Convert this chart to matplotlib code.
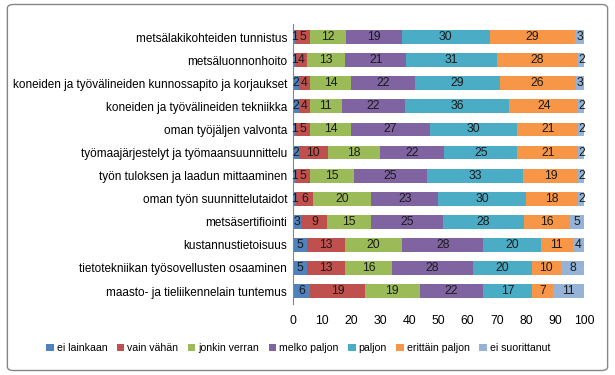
import numpy as np
import matplotlib.pyplot as plt
from matplotlib.patches import FancyBboxPatch

plt.rcParams['font.family'] = ['Liberation Sans', 'DejaVu Sans']

# Kategoriat ylhäältä alas
kategoriat = [
    'metsälakikohteiden tunnistus',
    'metsäluonnonhoito',
    'koneiden ja työvälineiden kunnossapito ja korjaukset',
    'koneiden ja työvälineiden tekniikka',
    'oman työjäljen valvonta',
    'työmaajärjestelyt ja työmaansuunnittelu',
    'työn tuloksen ja laadun mittaaminen',
    'oman työn suunnittelutaidot',
    'metsäsertifiointi',
    'kustannustietoisuus',
    'tietotekniikan työsovellusten osaaminen',
    'maasto- ja tieliikennelain tuntemus',
]

sarjat = ['ei lainkaan', 'vain vähän', 'jonkin verran', 'melko paljon',
          'paljon', 'erittäin paljon', 'ei suorittanut']

ei_lainkaan = [1, 1, 2, 2, 1, 2, 1, 1, 3, 5, 5, 6]
vain_vahan = [5, 4, 4, 4, 5, 10, 5, 6, 9, 13, 13, 19]
jonkin_verran = [12, 13, 14, 11, 14, 18, 15, 20, 15, 20, 16, 19]
melko_paljon = [19, 21, 22, 22, 27, 22, 25, 23, 25, 28, 28, 22]
paljon = [30, 31, 29, 36, 30, 25, 33, 30, 28, 20, 20, 17]
erittain_paljon = [29, 28, 26, 24, 21, 21, 19, 18, 16, 11, 10, 7]
ei_suorittanut = [3, 2, 3, 2, 2, 2, 2, 2, 5, 4, 8, 11]

arvot = [ei_lainkaan, vain_vahan, jonkin_verran, melko_paljon,
         paljon, erittain_paljon, ei_suorittanut]
varit = ['#4F81BD', '#C0504D', '#9BBB59', '#8064A2',
         '#4BACC6', '#F79646', '#95B3D7']

# 100 % pinottu: rivit skaalataan summaan 100 (pyöristetyt arvot eivät aina summaudu tasan)
taulu = np.array(arvot, dtype=float)
osuudet = taulu / taulu.sum(axis=0) * 100

fig = plt.figure(figsize=(6.15, 3.75), dpi=100)
ax = fig.add_axes([0.476, 0.19, 0.474, 0.745])

y = np.arange(len(kategoriat))
vasen = np.zeros(len(kategoriat))
for nimi, data, osuus, vari in zip(sarjat, taulu, osuudet, varit):
    ax.barh(y, osuus, left=vasen, height=0.6, color=vari, label=nimi)
    for yi, (l, d, a) in enumerate(zip(vasen, osuus, data)):
        ax.text(l + d / 2, yi, f'{int(a)}', ha='center', va='center',
                fontsize=8.8, color='#1a1a1a')
    vasen += osuus

ax.set_xlim(0, 100)
ax.set_ylim(len(kategoriat) - 0.45, -0.55)
ax.set_yticks(y)
ax.set_yticklabels(kategoriat, fontsize=8.5)
ax.set_xticks(range(0, 101, 10))
ax.tick_params(axis='x', length=0, labelsize=8.8, pad=8)
ax.tick_params(axis='y', length=0, pad=4)
for s in ['top', 'right', 'bottom']:
    ax.spines[s].set_visible(False)
ax.spines['left'].set_color('#868686')

fig.legend(loc='center', bbox_to_anchor=(0.485, 0.072), ncol=7, frameon=False,
           fontsize=7.6, handlelength=0.7, handleheight=0.7, handletextpad=0.3,
           columnspacing=0.9)

reuna = FancyBboxPatch((0.012, 0.012), 0.976, 0.976, boxstyle='round,pad=0,rounding_size=0.01',
                       transform=fig.transFigure, facecolor='none',
                       edgecolor='#868686', linewidth=1)
fig.patches.append(reuna)

fig.savefig('out.png', dpi=100)
